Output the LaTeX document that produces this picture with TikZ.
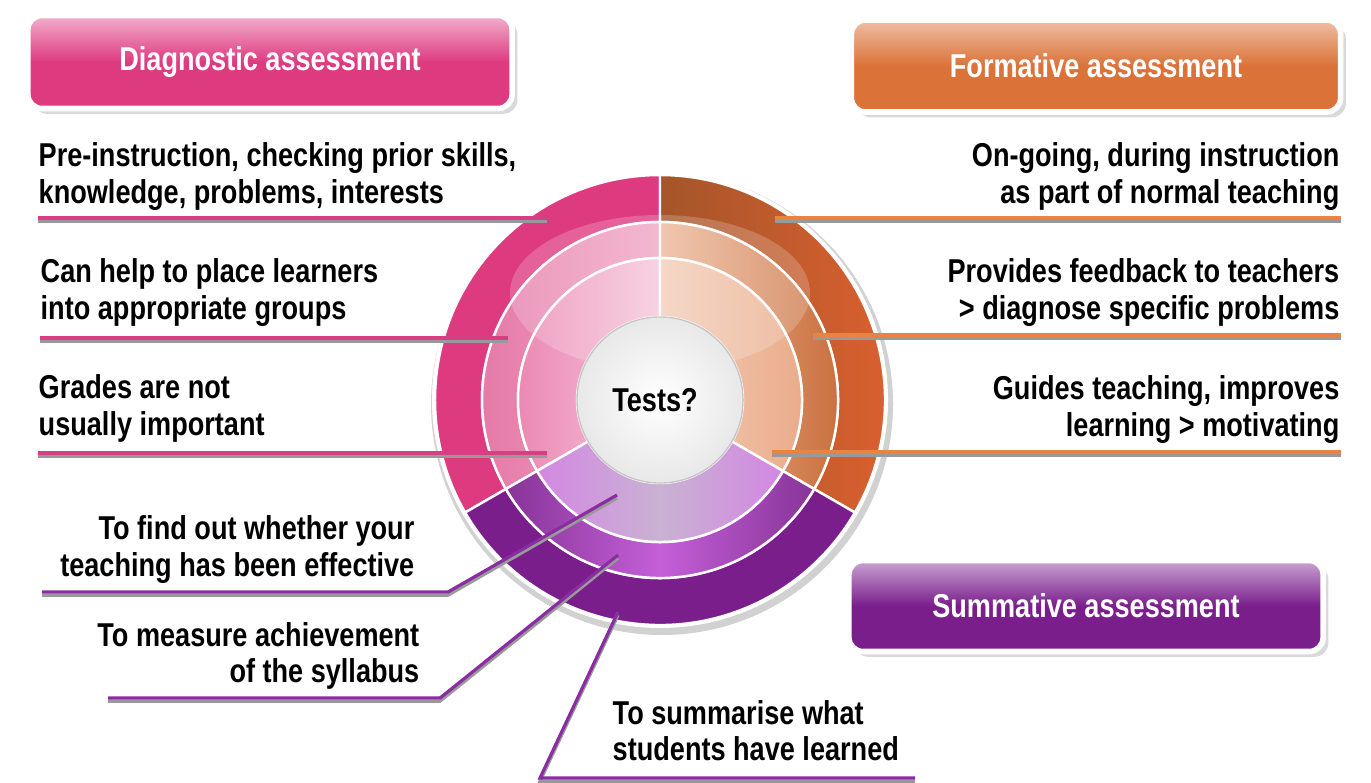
\documentclass[tikz,border=0pt]{standalone}
\usepackage{fontspec}
\setmainfont{Liberation Sans}[FakeStretch=0.82]
\usetikzlibrary{shadows}

\definecolor{diagpink}{HTML}{DE3A80}
\definecolor{diagmid}{HTML}{E57AA7}
\definecolor{formorange}{HTML}{DB7238}
\definecolor{sumpurple}{HTML}{7A1E8C}
\definecolor{sumglow}{HTML}{C45FD8}
\definecolor{sumpale}{HTML}{C9B2D3}
\definecolor{pinkline}{HTML}{D63F83}
\definecolor{orangeline}{HTML}{E8843F}
\definecolor{purpleline}{HTML}{8B2DA2}

\newcommand{\bodyfont}{\fontsize{9.4}{10.24}\selectfont\bfseries}
% one piece of the ring: start angle, end angle, inner radius, outer radius, options
\newcommand{\ringseg}[5]{\path[#5] (#1:#4) arc[start angle=#1, end angle=#2, radius=#4] -- (#2:#3) arc[start angle=#2, end angle=#1, radius=#3] -- cycle;}

\tikzset{
  headbox/.style={rounded corners=4pt, draw=white, line width=1.6pt, text=white,
    font=\bodyfont, inner sep=0pt,
    drop shadow={opacity=0.3, shadow xshift=1.5pt, shadow yshift=-1.5pt}},
  note/.style={font=\bodyfont, inner sep=0pt},
  leader/.style={line width=0.9pt,
    preaction={draw=black!40, line width=0.9pt, transform canvas={yshift=-0.9pt}}},
  seg/.style={draw=white, line width=0.7pt},
}

\begin{document}
\begin{tikzpicture}[x=0.01cm, y=-0.01cm]
\useasboundingbox (0,0) rectangle (1371,782);

% the ring
\fill[black!18] (662,404) circle[radius=231];
\fill[white] (660,400) circle[radius=228];
\begin{scope}[shift={(660,400)}, yscale=-1]
  % diagnostic
  \ringseg{90}{210}{178}{225}{seg, fill=diagpink}
  \ringseg{90}{210}{142}{178}{seg, left color=diagmid, right color=diagpink!45!white}
  \ringseg{90}{210}{83}{142}{seg, left color=diagpink!60!white, right color=diagpink!28!white}
  % formative
  \ringseg{-30}{90}{178}{225}{seg, left color=formorange!75!black, right color=formorange!85!red}
  \ringseg{-30}{90}{142}{178}{seg, left color=formorange!50!white, right color=formorange!90!black}
  \ringseg{-30}{90}{83}{142}{seg, left color=formorange!35!white, right color=formorange!62!white}
  % summative
  \ringseg{210}{330}{178}{225}{seg, fill=sumpurple}
  \ringseg{210}{330}{142}{178}{seg, left color=sumpurple!90!white, right color=sumpurple!90!white, middle color=sumglow}
  \ringseg{210}{330}{83}{142}{seg, left color=sumglow!75!white, right color=sumglow!75!white, middle color=sumpale}
  % gloss
  \fill[white, opacity=0.2] (0,107) ellipse[x radius=150, y radius=78];
\end{scope}
\node[circle, minimum size=1.66cm, inner sep=0pt, draw=black!22, line width=0.4pt,
  inner color=white, outer color=black!9] (tests) at (660,400) {};
\node[note] (testslabel) at (655,400) {Tests?};

% headings
\node[headbox, top color=diagpink!40!white, bottom color=diagpink, middle color=diagpink,
  minimum width=4.84cm, minimum height=0.93cm] (diag) at (270,62) {Diagnostic assessment};
\node[headbox, top color=formorange!45!white, bottom color=formorange, middle color=formorange,
  minimum width=4.89cm, minimum height=0.92cm] (form) at (1096,66) {Formative assessment};
\node[headbox, top color=sumpurple!40!white, bottom color=sumpurple, middle color=sumpurple,
  minimum width=4.74cm, minimum height=0.91cm] (summ) at (1086,606) {Summative assessment};

% ends of the leaders
\coordinate (d1) at (547,218);  \coordinate (d1s) at (38,218);
\coordinate (d2) at (508,338);  \coordinate (d2s) at (40,338);
\coordinate (d3) at (547,453);  \coordinate (d3s) at (38,453);
\coordinate (f1) at (775,218);  \coordinate (f1s) at (1341,218);
\coordinate (f2) at (813,335);  \coordinate (f2s) at (1341,335);
\coordinate (f3) at (772,452);  \coordinate (f3s) at (1341,452);
\coordinate (s1) at (617,495);  \coordinate (s1k) at (448,592); \coordinate (s1s) at (42,592);
\coordinate (s2) at (618,555);  \coordinate (s2k) at (440,698); \coordinate (s2s) at (108,698);
\coordinate (s3) at (618,612);  \coordinate (s3k) at (540,778); \coordinate (s3s) at (915,778);

% texts (base = last line)
\node[note, anchor=base west, align=left] (diag1) at (38,203)
  {Pre-instruction, checking prior skills,\\knowledge, problems, interests};
\node[note, anchor=base west, align=left] (diag2) at (40,319)
  {Can help to place learners\\into appropriate groups};
\node[note, anchor=base west, align=left] (diag3) at (38,435)
  {Grades are not\\usually important};
\node[note, anchor=base east, align=right] (form1) at (1340,203)
  {On-going, during instruction\\as part of normal teaching};
\node[note, anchor=base east, align=right] (form2) at (1340,319)
  {Provides feedback to teachers\\> diagnose specific problems};
\node[note, anchor=base east, align=right] (form3) at (1340,436)
  {Guides teaching, improves\\learning > motivating};
\node[note, anchor=base east, align=right] (summ1) at (415,576)
  {To find out whether your\\teaching has been effective};
\node[note, anchor=base east, align=right] (summ2) at (420,682)
  {To measure achievement\\of the syllabus};
\node[note, anchor=base west, align=left] (summ3) at (612,760)
  {To summarise what\\students have learned};

% leaders
\draw[leader, pinkline] (d1s) -- (d1);
\draw[leader, pinkline] (d2s) -- (d2);
\draw[leader, pinkline] (d3s) -- (d3);
\draw[leader, orangeline] (f1s) -- (f1);
\draw[leader, orangeline] (f2s) -- (f2);
\draw[leader, orangeline] (f3s) -- (f3);
\draw[leader, purpleline] (s1s) -- (s1k) -- (s1);
\draw[leader, purpleline] (s2s) -- (s2k) -- (s2);
\draw[leader, purpleline] (s3s) -- (s3k) -- (s3);
\end{tikzpicture}
\end{document}
